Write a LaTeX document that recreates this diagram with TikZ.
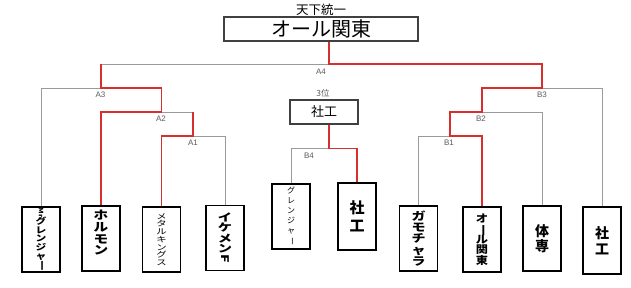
\documentclass[tikz,border=0pt]{standalone}
\usepackage{fontspec}
\setmainfont{Noto Sans CJK JP}
\newfontfamily\labf{Liberation Sans}
\newfontfamily\cjkS[FakeStretch=1.15]{Noto Sans CJK JP}
\newfontfamily\cjkM[FakeStretch=1.25]{Noto Sans CJK JP}
\newfontfamily\cjkL[FakeStretch=1.35]{Noto Sans CJK JP}
\usepackage{graphicx}
\newcommand\chouon{\rotatebox[origin=c]{-90}{ー}}
\newcommand\latrot[1]{\rotatebox[origin=c]{-90}{#1}}
\definecolor{redline}{HTML}{D6302E}
\definecolor{grayline}{HTML}{9A9A9A}
\definecolor{labgray}{HTML}{5A5A5A}
\lineskiplimit=-50pt
\begin{document}
\begin{tikzpicture}[x=1pt,y=-1pt,
  gl/.style={draw=grayline,line width=0.9pt},
  rl/.style={draw=redline,line width=1.6pt},
  team/.style={draw=black,line width=1.6pt,minimum width=38pt,minimum height=65pt,inner sep=0pt,align=center},
  hbox/.style={draw=black!75,line width=1.1pt,inner sep=0pt},
  lab/.style={font=\labf\fontsize{8}{9}\selectfont,text=labgray,inner sep=0pt}]
\useasboundingbox (0,0) rectangle (631,288);

% champion and third place
\node[inner sep=0pt,font=\fontsize{12.5}{14}\selectfont] (title) at (321,9.5) {天下統一};
\node[hbox,minimum width=194pt,minimum height=24pt,font=\fontsize{20}{22}\selectfont] (champ) at (321,29) {オール関東};
\node[inner sep=0pt,text=labgray,font=\fontsize{8.5}{9}\selectfont] (thirdlab) at (323,93) {3位};
\node[hbox,minimum width=68pt,minimum height=24pt,font=\fontsize{13}{14}\selectfont] (third) at (324,112) {社工};

% teams
\node[team,font=\cjkM\fontsize{8.6}{8.6}\selectfont\bfseries] (m1) at (41,239.5) {{\fontsize{6}{6}\selectfont\latrot{Mr.}}\\グ\\レ\\ン\\ジ\\ャ\\\chouon};
\node[team,font=\cjkM\fontsize{11.7}{11.7}\selectfont\bfseries] (m2) at (101,238.5) {ホ\\ル\\モ\\ン\\\mbox{}};
\node[team,font=\cjkL\fontsize{7.7}{7.7}\selectfont] (m3) at (161.5,239.5) {メ\\タ\\ル\\キ\\ン\\グ\\ス};
\node[team,font=\cjkL\fontsize{10.5}{10.5}\selectfont\bfseries] (m4) at (225,238) {イ\\ケ\\メ\\ン\\\latrot{F}};
\node[team,font=\fontsize{8}{10}\selectfont] (g1) at (291,216.5) {グ\\レ\\ン\\ジ\\ャ\\\chouon};
\node[team,minimum height=67pt,font=\fontsize{15}{18}\selectfont\bfseries] (g2) at (357,216.5) {社\\工};
\node[team,font=\cjkM\fontsize{11.2}{11.2}\selectfont\bfseries] (m5) at (418.5,238.5) {ガ\\モ\\チ\\ャ\\ラ};
\node[team,font=\cjkS\fontsize{10.6}{10.6}\selectfont\bfseries] (m6) at (482,239.5) {オ\\\chouon\\ル\\関\\東};
\node[team,font=\fontsize{14}{14.5}\selectfont\bfseries] (m7) at (542,238.5) {体\\専};
\node[team,minimum height=67pt,font=\fontsize{14}{15.5}\selectfont\bfseries] (m8) at (602,240.5) {社\\工};

% junctions
\coordinate (A4) at (329,64);
\coordinate (A3) at (101,88);
\coordinate (A2) at (161.5,112);
\coordinate (A1) at (193,136);
\coordinate (B1) at (450,136);
\coordinate (B2) at (482,112);
\coordinate (B3) at (542,88);
\coordinate (B4) at (329,148.5);

% gray lines
\draw[gl] (m1.north) |- (A3);
\draw[gl] (A3 |- A4) -- (A4);
\draw[gl] (A2) -- (A2 -| A1);
\draw[gl] (m4.north) |- (A1);
\draw[gl] (m5.north) |- (B1);
\draw[gl] (m7.north) |- (B2);
\draw[gl] (m8.north) |- (B3);
\draw[gl] (g1.north) |- (B4);

% red lines
\draw[rl] (m2.north) |- (A2) -- (A2 |- A3) -- (A3) -- (A3 |- A4);
\draw[rl] (m3.north) |- (A1) -- (A1 |- A2);
\draw[rl] (m6.north) |- (B1) -- (B1 |- B2) -- (B2) -- (B2 |- B3) -- (B3) -- (B3 |- A4) -- (A4) -- (A4 |- champ.south);
\draw[rl] (g2.north) |- (B4) -- (third.south -| B4);

% labels
\node[lab] (la4) at (321,72) {A4};
\node[lab] (la3) at (100.5,95) {A3};
\node[lab] (la2) at (161,119) {A2};
\node[lab] (la1) at (193,143) {A1};
\node[lab] (lb3) at (542,95) {B3};
\node[lab] (lb2) at (481,119) {B2};
\node[lab] (lb1) at (449,143) {B1};
\node[lab] (lb4) at (309,156) {B4};
\end{tikzpicture}
\end{document}
